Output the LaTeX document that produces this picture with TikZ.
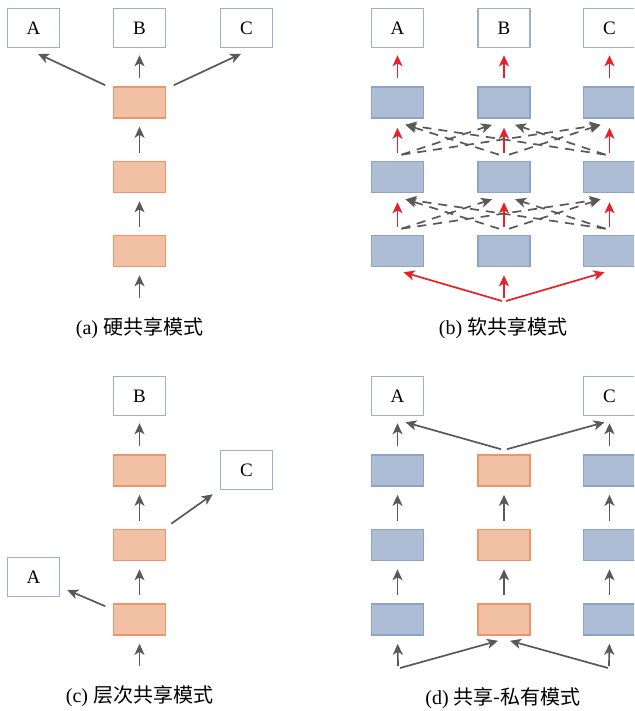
\documentclass[tikz,border=0pt]{standalone}
\usepackage{fontspec}
\setmainfont{Liberation Serif}
\newfontfamily\cjk{Noto Sans CJK SC}
\usetikzlibrary{arrows.meta,calc}
\definecolor{orfill}{HTML}{F2C1A5}
\definecolor{ordraw}{HTML}{EE9568}
\definecolor{blfill}{HTML}{ADBDD6}
\definecolor{bldraw}{HTML}{8BA3C7}
\definecolor{txdraw}{HTML}{9CB1D1}
\definecolor{arrgray}{HTML}{595959}
\definecolor{redarr}{HTML}{E8202A}
\tikzset{
  obox/.style={draw=ordraw, fill=orfill, line width=1.6pt, minimum width=52pt, minimum height=31pt, inner sep=0pt},
  bbox/.style={draw=bldraw, fill=blfill, line width=1.6pt, minimum width=52pt, minimum height=31pt, inner sep=0pt},
  tbox/.style={draw=txdraw, fill=white, line width=1.6pt, minimum width=52pt, minimum height=39pt, inner sep=0pt, font=\fontsize{19}{19}\selectfont},
  garr/.style={draw=arrgray, line width=1.7pt, -{Stealth[length=11pt,width=10pt,inset=3pt]}},
  rarr/.style={draw=redarr, line width=1.7pt, -{Stealth[length=11pt,width=10pt,inset=3pt]}},
  darr/.style={garr, dash pattern=on 9pt off 7pt},
  captext/.style={font=\fontsize{20}{20}\selectfont, inner sep=0pt},
}
\begin{document}
\begin{tikzpicture}[yscale=-1, x=1pt, y=1pt]
\clip (0,0) rectangle (634,711);
\fill[white] (0,0) rectangle (634,711);

% ---------------- (a) ----------------
\node[tbox] (aA) at (33.5,28) {A};
\node[tbox] (aB) at (139.5,28) {B};
\node[tbox] (aC) at (246.5,28) {C};
\node[obox] (a1) at (139.5,102.5) {};
\node[obox] (a2) at (139.5,177) {};
\node[obox] (a3) at (139.5,251) {};
\coordinate (ain) at (139.5,298);
\draw[garr, shorten >=8pt] (ain) -- (a3.south);
\draw[garr, shorten <=8pt, shorten >=8pt] (a3.north) -- (a2.south);
\draw[garr, shorten <=8pt, shorten >=8pt] (a2.north) -- (a1.south);
\draw[garr, shorten <=8pt, shorten >=7pt] (a1.north) -- (aB.south);
\draw[garr] ($(a1.north west)+(-7.5,-1)$) -- ($(aA.south)+(4.5,5.5)$);
\draw[garr] ($(a1.north east)+(7.5,-1)$) -- ($(aC.south)+(-5.5,5.5)$);
\node[captext] (capa) at (139.5,328) {(a) {\cjk 硬共享模式}};

% ---------------- (b) ----------------
\foreach \n/\x in {A/397.5,B/504,C/609.5}{
  \node[tbox] (b\n) at (\x,28) {\n};
  \node[bbox] (b\n1) at (\x,102.5) {};
  \node[bbox] (b\n2) at (\x,177) {};
  \node[bbox] (b\n3) at (\x,251) {};
  \draw[rarr, shorten <=8pt, shorten >=7pt] (b\n1.north) -- (b\n.south);
  \draw[rarr, shorten <=8pt, shorten >=9pt] (b\n2.north) -- (b\n1.south);
  \draw[rarr, shorten <=8pt, shorten >=9pt] (b\n3.north) -- (b\n2.south);
}
\foreach \lo/\up in {2/1,3/2}{
  \draw[darr] ($(bA\lo.north)+(4,-6)$) -- ($(bB\up.south)+(-12,6)$);
  \draw[darr] ($(bA\lo.north)+(4,-6)$) -- ($(bC\up.south)+(-9,6)$);
  \draw[darr] ($(bB\lo.north)+(-5,-6)$) -- ($(bA\up.south)+(8,6)$);
  \draw[darr] ($(bB\lo.north)+(5,-6)$) -- ($(bC\up.south)+(-9,6)$);
  \draw[darr] ($(bC\lo.north)+(-4,-6)$) -- ($(bA\up.south)+(8,6)$);
  \draw[darr] ($(bC\lo.north)+(-4,-6)$) -- ($(bB\up.south)+(11,6)$);
}
\coordinate (bin) at (504,301);
\draw[rarr, shorten >=8pt] ($(bin)+(0,-3)$) -- (bB3.south);
\draw[rarr] ($(bin)+(-2,0)$) -- ($(bA3.south)+(6,5)$);
\draw[rarr] ($(bin)+(2,0)$) -- ($(bC3.south)+(-5,5)$);
\node[captext] (capb) at (503,328) {(b) {\cjk 软共享模式}};

% ---------------- (c) ----------------
\node[tbox] (cB) at (139.5,396) {B};
\node[tbox] (cC) at (246.5,470) {C};
\node[tbox] (cA) at (33.5,577) {A};
\node[obox] (c1) at (139.5,470.5) {};
\node[obox] (c2) at (139.5,545) {};
\node[obox] (c3) at (139.5,619.5) {};
\coordinate (cin) at (139.5,666);
\draw[garr, shorten >=8pt] (cin) -- (c3.south);
\draw[garr, shorten <=8pt, shorten >=8pt] (c3.north) -- (c2.south);
\draw[garr, shorten <=8pt, shorten >=8pt] (c2.north) -- (c1.south);
\draw[garr, shorten <=8pt, shorten >=7pt] (c1.north) -- (cB.south);
\draw[garr] ($(c2.north east)+(5,-5)$) -- ($(cC.south west)+(-7,4)$);
\draw[garr] ($(c3.north west)+(-7.5,3)$) -- ($(cA.east)+(7,13)$);
\node[captext] (capc) at (139.5,696) {(c) {\cjk 层次共享模式}};

% ---------------- (d) ----------------
\node[tbox] (dA) at (397.5,396) {A};
\node[tbox] (dC) at (609.5,396) {C};
\foreach \n/\x/\s in {A/397.5/bbox,B/504/obox,C/609.5/bbox}{
  \node[\s] (d\n1) at (\x,470.5) {};
  \node[\s] (d\n2) at (\x,545) {};
  \node[\s] (d\n3) at (\x,619.5) {};
  \draw[garr, shorten <=8pt, shorten >=8pt] (d\n3.north) -- (d\n2.south);
  \draw[garr, shorten <=8pt, shorten >=8pt] (d\n2.north) -- (d\n1.south);
}
\draw[garr, shorten <=8pt, shorten >=7pt] (dA1.north) -- (dA.south);
\draw[garr, shorten <=8pt, shorten >=7pt] (dC1.north) -- (dC.south);
\draw[garr] ($(dB1.north)+(-3,-5)$) -- ($(dA.south)+(8,6)$);
\draw[garr] ($(dB1.north)+(3,-5)$) -- ($(dC.south)+(-5,6)$);
\coordinate (dinA) at (400,668);
\coordinate (dinC) at (608,668);
\draw[garr, shorten >=8pt] ($(dinA)+(-2,-2)$) -- (dA3.south);
\draw[garr, shorten >=8pt] ($(dinC)+(1,-2)$) -- (dC3.south);
\draw[garr] (dinA) -- ($(dB3.south)+(-6,5)$);
\draw[garr] (dinC) -- ($(dB3.south)+(6,5)$);
\node[captext] (capd) at (503,698) {(d) {\cjk 共享-私有模式}};
\end{tikzpicture}
\end{document}
